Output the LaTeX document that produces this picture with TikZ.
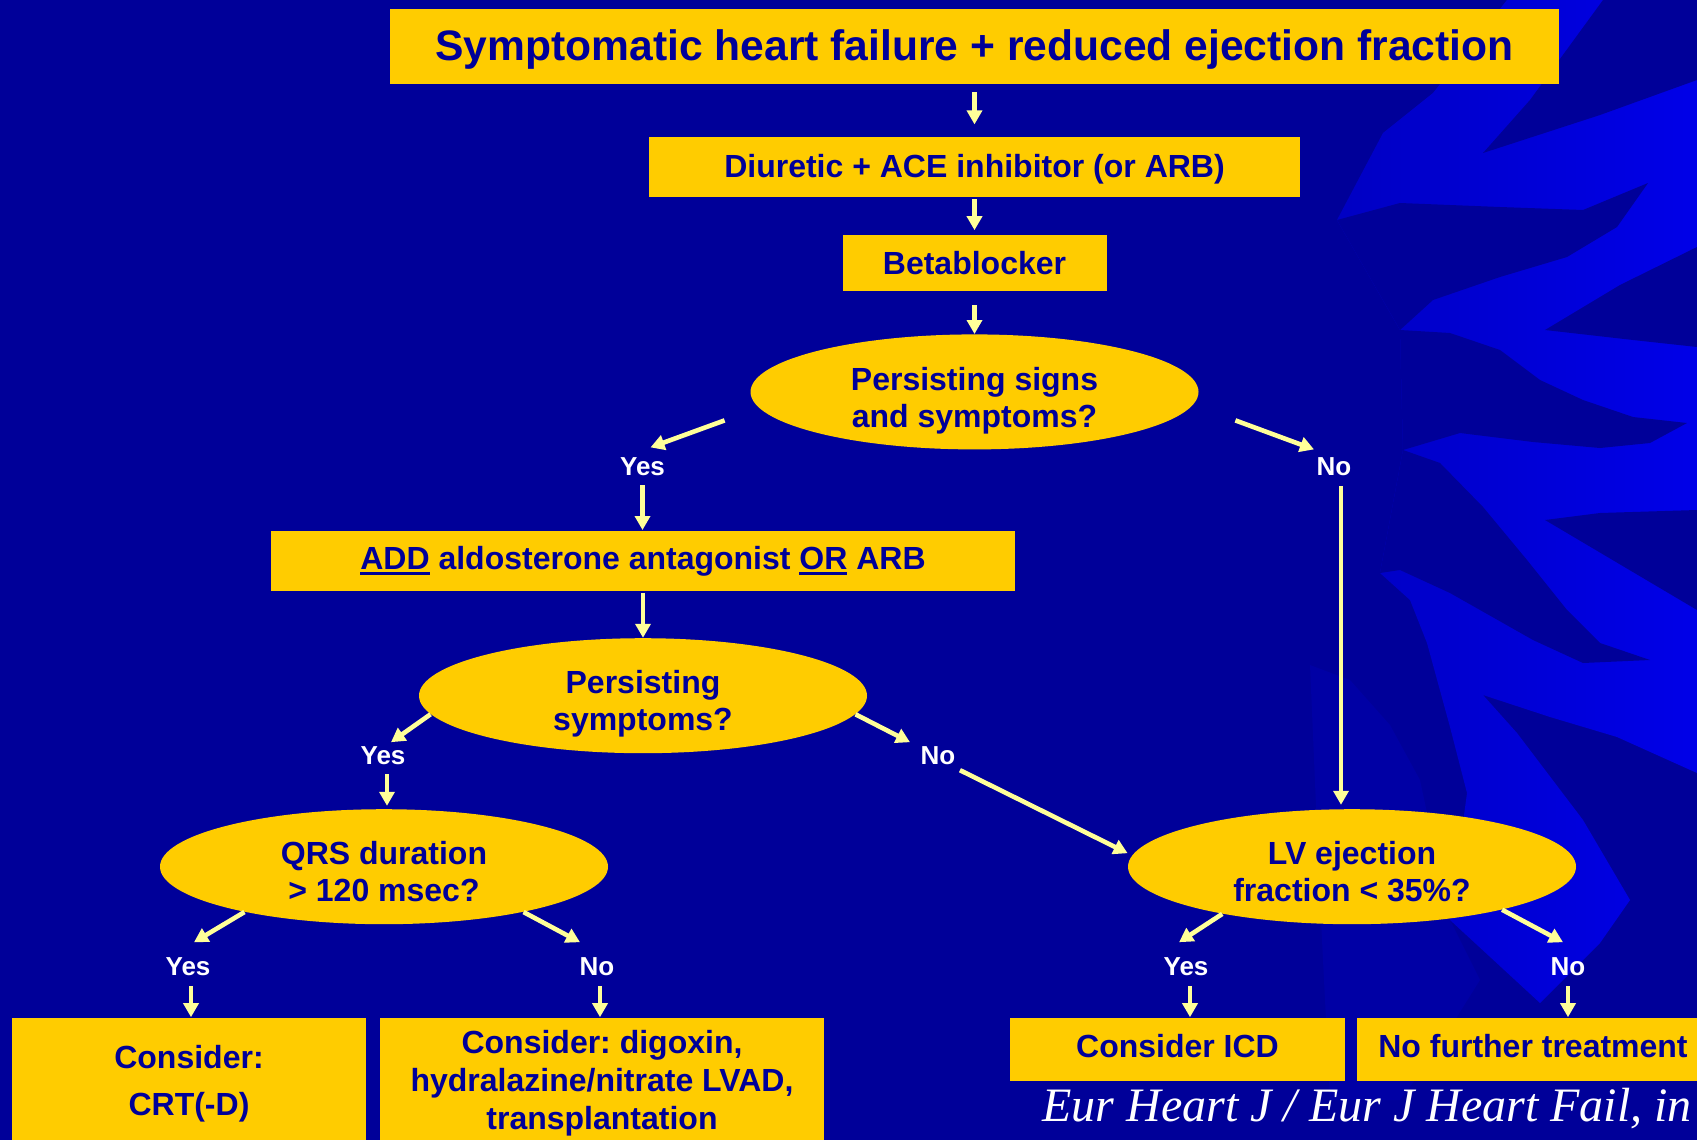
\documentclass[tikz,border=0pt]{standalone}
\usepackage{fontspec}
\setmainfont{Liberation Sans}
\newfontfamily\citefont{Liberation Serif}
\usepackage{tikz}
\usetikzlibrary{positioning, arrows.meta, shapes.geometric}
\usepackage{xcolor}
\frenchspacing

\definecolor{slidenavy}{RGB}{0,0,153}
\definecolor{slidegold}{RGB}{255,204,0}
\definecolor{arrowpale}{RGB}{255,255,153}
\definecolor{leafdim}{RGB}{0,0,165}
\definecolor{leafmid}{RGB}{0,0,195}
\definecolor{leafhi}{RGB}{0,0,232}

\newsavebox\ulbox
\newcommand{\ulword}[1]{\sbox\ulbox{#1}\rlap{\rule[-2.6pt]{\wd\ulbox}{1.4pt}}\usebox\ulbox}
% two centred lines, first baseline on the node centre
\newcommand{\qlines}[1]{\raisebox{-9pt}[0pt][0pt]{\begin{tabular}{@{}c@{}}#1\end{tabular}}}

\begin{document}
\begin{tikzpicture}[x=0.5pt, y=-0.5pt,
    box/.style={rectangle, fill=slidegold, text=slidenavy, align=center, inner sep=0pt,
        font=\bfseries\fontsize{16}{19}\selectfont},
    question/.style={ellipse, fill=slidegold, text=slidenavy, inner sep=0pt,
        minimum width=224pt, minimum height=57.5pt, font=\bfseries\fontsize{16}{18.5}\selectfont},
    answer/.style={text=white, inner sep=1pt, font=\bfseries\fontsize{13}{15}\selectfont},
    link/.style={draw=arrowpale, line width=2.3pt, -{Triangle[width=7.5pt,length=7pt]}}]

    \useasboundingbox (0,0) rectangle (1697,1140);
    \clip (0,0) rectangle (1697,1140);
    \fill[slidenavy] (0,0) rectangle (1697,1140);

    % background leaf
    \fill[leafdim] (1310,665) -- (1350,680) -- (1390,725) -- (1420,780) -- (1450,920) -- (1480,980)
        -- (1430,1060) -- (1400,1100) -- (1330,1100) -- (1320,900) -- cycle;
    \shade[left color=leafmid, right color=leafhi] (1507,0) -- (1697,0) -- (1697,773) -- (1617,737)
        -- (1550,717) -- (1483,695) -- (1517,733) -- (1583,820) -- (1630,900) -- (1600,943)
        -- (1540,1003) -- (1450,920) -- (1467,793) -- (1450,727) -- (1427,643) -- (1410,600)
        -- (1380,573) -- (1403,450) -- (1400,330) -- (1337,220) -- (1383,133) -- (1433,93) -- cycle;
    \fill[slidenavy] (1483,153) -- (1530,100) -- (1603,0) -- (1697,0) -- (1697,80) -- (1600,115) -- cycle;
    \fill[slidenavy] (1337,220) -- (1400,203) -- (1500,207) -- (1583,210) -- (1648,183) -- (1617,227)
        -- (1567,257) -- (1500,277) -- (1433,300) -- (1400,330) -- cycle;
    \fill[slidenavy] (1545,330) -- (1620,285) -- (1697,247) -- (1697,347) -- (1633,340) -- cycle;
    \fill[slidenavy] (1400,330) -- (1450,333) -- (1500,350) -- (1540,380) -- (1583,400) -- (1633,417)
        -- (1687,423) -- (1650,443) -- (1600,448) -- (1533,442) -- (1460,433) -- (1403,450) -- cycle;
    \fill[slidenavy] (1403,450) -- (1440,463) -- (1483,507) -- (1527,560) -- (1567,610) -- (1600,643)
        -- (1650,660) -- (1583,663) -- (1533,640) -- (1450,593) -- (1400,570) -- (1380,573) -- cycle;
    \fill[slidenavy] (1545,520) -- (1600,513) -- (1697,510) -- (1697,610) -- cycle;

    % Main column
    \node[box, minimum width=584.5pt, minimum height=37.5pt, text height=18.7pt, text depth=4.5pt,
        font=\bfseries\fontsize{21.3}{24}\selectfont]
        (start) at (974.5,46.5) {Symptomatic heart failure + reduced ejection fraction};
    \node[box, minimum width=325.5pt, minimum height=30pt, text height=13.7pt, text depth=3.4pt,
        below=26pt of start] (diuretic) {Diuretic + ACE inhibitor (or ARB)};
    \node[box, minimum width=132pt, minimum height=28pt, below=18.5pt of diuretic] (beta) {Betablocker};
    \node[question, below=21.5pt of beta] (persist1) {\qlines{Persisting signs\\and symptoms?}};

    \node[answer, xshift=-166pt, yshift=-37.25pt] (yes1) at (persist1) {Yes};
    \node[answer, xshift=179.75pt, yshift=-37.25pt] (no1) at (persist1) {No};

    % Left branch
    \node[box, minimum width=372pt, minimum height=30pt, xshift=-165.75pt, yshift=-84.75pt] (add)
        at (persist1) {\ulword{ADD} aldosterone antagonist \ulword{OR} ARB};
    \node[question, below=23pt of add] (persist2) {\qlines{Persisting\\symptoms?}};

    \node[answer, xshift=-130pt, yshift=-29.75pt] (yes2) at (persist2) {Yes};
    \node[answer, xshift=147.5pt, yshift=-29.75pt] (no2) at (persist2) {No};

    \node[question, xshift=-129.5pt, yshift=-85.5pt] (qrs) at (persist2) {\qlines{QRS duration\\> 120 msec?}};
    \node[question, xshift=354.5pt, yshift=-85.5pt] (lv) at (persist2) {\qlines{LV ejection\\fraction < 35\%?}};

    \node[answer, xshift=-98pt, yshift=-49.75pt] (yes3) at (qrs) {Yes};
    \node[answer, xshift=106.5pt, yshift=-49.75pt] (no3) at (qrs) {No};
    \node[answer, xshift=-83pt, yshift=-49.75pt] (yes4) at (lv) {Yes};
    \node[answer, xshift=108pt, yshift=-49.75pt] (no4) at (lv) {No};

    % Outcomes
    \node[box, anchor=north, minimum width=177pt, minimum height=66pt, xshift=-97.5pt, yshift=-75.25pt,
        font=\bfseries\fontsize{16}{23.5}\selectfont] (crt) at (qrs) {Consider:\\CRT(-D)};
    \node[box, anchor=north, minimum width=222pt, minimum height=66pt, xshift=109pt, yshift=-75.25pt]
        (digoxin) at (qrs) {Consider: digoxin,\\hydralazine/nitrate LVAD,\\transplantation};
    \node[box, anchor=north, minimum width=167.5pt, minimum height=31.5pt, text depth=3.2pt,
        xshift=-87.25pt, yshift=-75.25pt] (icd) at (lv) {Consider ICD};
    \node[box, anchor=north, minimum width=176pt, minimum height=31.5pt, text depth=3.2pt,
        xshift=90.5pt, yshift=-75.25pt] (nofurther) at (lv) {No further treatment};

    \node[anchor=west, text=white, inner sep=0pt, font=\citefont\itshape\fontsize{24}{28}\selectfont]
        (source) at (1042,1109) {Eur Heart J / Eur J Heart Fail, in};

    % Arrows
    \draw[link, shorten <=4pt, shorten >=6pt] (start.south) -- (diuretic.north);
    \draw[link, shorten <=1pt, shorten >=2pt] (diuretic.south) -- (beta.north);
    \draw[link, shorten <=7pt] (beta.south) -- (persist1.north);

    \draw[link] ([xshift=-12.75pt,yshift=-14.25pt]persist1.west) -- ([xshift=4pt,yshift=9.5pt]yes1.center);
    \draw[link, shorten >=0.5pt] ([yshift=-9.5pt]yes1.center) -- (yes1 |- add.north);
    \draw[link] ([xshift=18.25pt,yshift=-14.25pt]persist1.east) -- ([xshift=-10pt,yshift=8.5pt]no1.center);
    \draw[link, shorten >=2pt] ([xshift=3.5pt,yshift=-10pt]no1.center) -- ([xshift=3.5pt]no1 |- lv.north);

    \draw[link, shorten <=0.5pt] (add.south) -- (add.south |- persist2.north);
    \draw[link] (persist2.185) -- ([xshift=4pt,yshift=6.5pt]yes2.center);
    \draw[link, shorten >=1.5pt] ([xshift=2pt,yshift=-9.5pt]yes2.center) -- ([xshift=2pt]yes2 |- qrs.north);
    \draw[link] (persist2.355) -- ([xshift=-14pt,yshift=6.5pt]no2.center);
    \draw[link] ([xshift=11pt,yshift=-7.5pt]no2.center) -- ([yshift=6.75pt]lv.west);

    \draw[link] (qrs.198) -- ([xshift=3pt,yshift=12pt]yes3.center);
    \draw[link] ([xshift=1.5pt,yshift=-10pt]yes3.center) -- ([xshift=1.5pt]yes3 |- crt.north);
    \draw[link] (qrs.342.5) -- ([xshift=-8.5pt,yshift=12pt]no3.center);
    \draw[link] ([xshift=1.5pt,yshift=-10pt]no3.center) -- ([xshift=1.5pt]no3 |- digoxin.north);

    \draw[link] (lv.200) -- ([xshift=-3.5pt,yshift=12pt]yes4.center);
    \draw[link] ([xshift=2pt,yshift=-10pt]yes4.center) -- ([xshift=2pt]yes4 |- icd.north);
    \draw[link] (lv.344) -- ([xshift=-2.5pt,yshift=12pt]no4.center);
    \draw[link] ([yshift=-10pt]no4.center) -- (no4 |- nofurther.north);
\end{tikzpicture}
\end{document}
